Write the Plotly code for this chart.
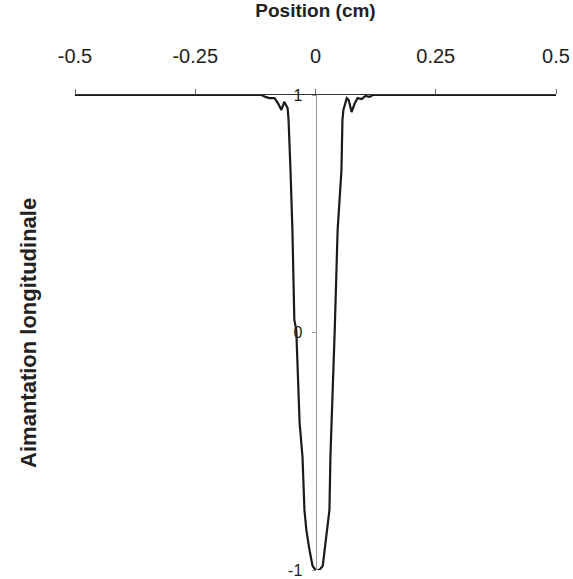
import plotly.graph_objects as go

# Profil d'aimantation longitudinale
position_cm = [-0.5, -0.1125, -0.104, -0.096, -0.085, -0.077, -0.071, -0.065, -0.058,
               -0.056, -0.052, -0.048, -0.044, -0.040, -0.033, -0.027, -0.023, -0.019,
               -0.0125, -0.006, 0.0, 0.008, 0.015, 0.019, 0.025, 0.029, 0.031, 0.033,
               0.040, 0.046, 0.054, 0.056, 0.058, 0.065, 0.069, 0.075, 0.081, 0.0875,
               0.096, 0.104, 0.1125, 0.119, 0.5]
aimantation = [1.0, 1.0, 0.992, 0.987, 0.987, 0.962, 0.937, 0.971, 0.945,
               0.895, 0.684, 0.432, 0.053, 0.011, -0.381, -0.524, -0.747, -0.832,
               -0.916, -0.983, -1.0, -1.0, -0.983, -0.916, -0.832, -0.747, -0.524, -0.381,
               0.011, 0.432, 0.684, 0.895, 0.937, 0.987, 0.979, 0.928, 0.962, 0.987,
               0.983, 0.996, 0.992, 1.0, 1.0]

x_ticks = [-0.5, -0.25, 0, 0.25, 0.5]
x_ticktext = ["-0.5", "-0.25", "0", "0.25", "0.5"]
y_ticks = [-1, 0, 1]
y_ticktext = ["-1", "0", "1"]

fig = go.Figure()

fig.add_trace(go.Scatter(
    x=position_cm,
    y=aimantation,
    mode='lines',
    line=dict(color='#1a1a1a', width=2.2),
    showlegend=False
))

fig.update_layout(
    width=573, height=579,
    margin=dict(l=75, r=17, t=95, b=9),
    plot_bgcolor='white',
    paper_bgcolor='white',
    font=dict(family='Arial, Liberation Sans, sans-serif', color='#222'),
    xaxis=dict(
        range=[-0.5, 0.5],
        side='top',
        automargin=False,
        showline=True, linecolor='#333', linewidth=1,
        showgrid=False, zeroline=False,
        ticks='outside', ticklen=5, tickcolor='#666',
        tickvals=x_ticks, ticktext=x_ticktext,
        tickfont=dict(size=20),
        ticklabelstandoff=18,
        ticklabeloverflow='allow',
        title=dict(text='<b>Position (cm)</b>', font=dict(size=19), standoff=29),
    ),
    yaxis=dict(
        range=[-1, 1],
        anchor='free', position=0.5,
        automargin=False,
        showline=True, linecolor='#999', linewidth=1,
        showgrid=False, zeroline=False,
        ticks='outside', ticklen=4, tickcolor='#999',
        tickvals=y_ticks, ticktext=y_ticktext,
        tickfont=dict(size=16),
        ticklabelstandoff=6,
    ),
)

# Titre de l'axe vertical, placé à gauche du graphique
fig.add_annotation(
    text='<b>Aimantation longitudinale</b>',
    xref='paper', yref='paper',
    x=-0.127, y=0.5,
    textangle=-90,
    showarrow=False,
    font=dict(size=22, color='#222'),
)

# supprimer la marge par défaut de la page pour que la figure occupe toute la fenêtre
fig.write_html("out.html",
               config={'displayModeBar': False},
               post_script="document.body.style.margin='0';")
